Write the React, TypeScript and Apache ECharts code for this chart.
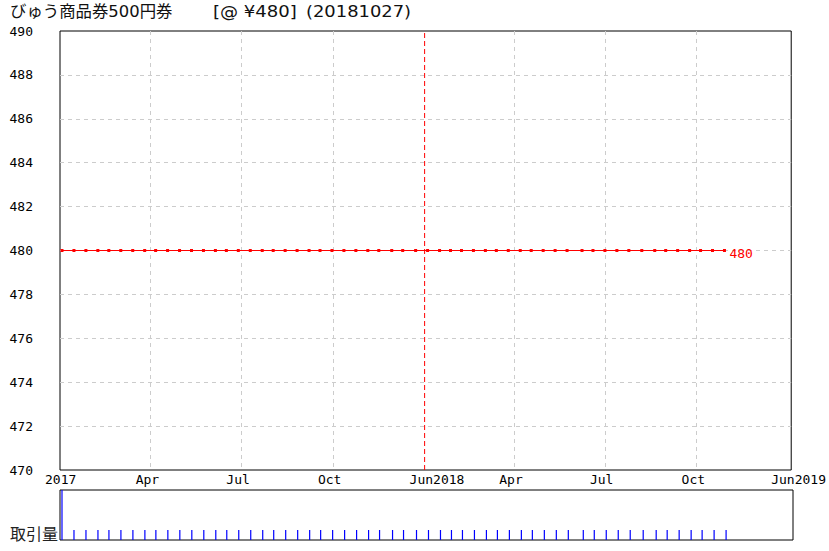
import React, { useEffect, useRef } from "react";
import * as echarts from "echarts";

const titleName = "びゅう商品券500円券";
const titlePrice = "[@ ¥480]";
const titleDate = "(20181027)";
const volumeTitle = "取引量";

const dates = [
  "2017-01-02", "2017-01-14", "2017-01-26", "2017-02-07", "2017-02-18", "2017-03-02",
  "2017-03-14", "2017-03-26", "2017-04-06", "2017-04-18", "2017-04-30", "2017-05-12",
  "2017-05-24", "2017-06-05", "2017-06-16", "2017-06-28", "2017-07-10", "2017-07-22",
  "2017-08-02", "2017-08-14", "2017-08-26", "2017-09-07", "2017-09-18", "2017-09-30",
  "2017-10-12", "2017-10-24", "2017-11-05", "2017-11-16", "2017-11-29", "2017-12-10",
  "2017-12-23", "2018-01-04", "2018-01-16", "2018-01-27", "2018-02-07", "2018-02-19",
  "2018-03-03", "2018-03-14", "2018-03-26", "2018-04-07", "2018-04-18", "2018-04-30",
  "2018-05-12", "2018-05-24", "2018-06-08", "2018-06-19", "2018-07-01", "2018-07-13",
  "2018-07-25", "2018-08-07", "2018-08-20", "2018-08-31", "2018-09-12", "2018-09-24",
  "2018-10-05", "2018-10-17", "2018-10-29",
];

const prices = [
  480, 480, 480, 480, 480, 480, 480, 480, 480, 480, 480, 480, 480, 480, 480, 480, 480, 480, 480,
  480, 480, 480, 480, 480, 480, 480, 480, 480, 480, 480, 480, 480, 480, 480, 480, 480, 480, 480,
  480, 480, 480, 480, 480, 480, 480, 480, 480, 480, 480, 480, 480, 480, 480, 480, 480, 480, 480,
];

const volumes = [
  5, 1, 1, 1, 1, 1, 1, 1, 1, 1, 1, 1, 1, 1, 1, 1, 1, 1, 1,
  1, 1, 1, 1, 1, 1, 1, 1, 1, 1, 1, 1, 1, 1, 1, 1, 1, 1, 1,
  1, 1, 1, 1, 1, 1, 1, 1, 1, 1, 1, 1, 1, 1, 1, 1, 1, 1, 1,
];

const axisStart = "2016-12-31";
const axisEnd = "2019-01-04";
const tickDates = [
  axisStart, "2017-04-01", "2017-07-01", "2017-10-01", "2018-01-01",
  "2018-04-01", "2018-07-01", "2018-10-01", axisEnd,
];
const tickLabels = ["2017", "Apr", "Jul", "Oct", "Jun2018", "Apr", "Jul", "Oct", "Jun2019"];
const markerDate = "2018-01-01";

const yMin = 470;
const yMax = 490;
const yStep = 2;

const ts = (s: string) => {
  const [y, m, d] = s.split("-").map(Number);
  return Date.UTC(y, m - 1, d);
};

const MONO = "'DejaVu Sans Mono', monospace";
const TITLE_FONT = "'DejaVu Sans', 'Noto Sans CJK JP', sans-serif";
const RED = "#ff0000";

export default function App() {
  const ref = useRef<HTMLDivElement>(null);

  useEffect(() => {
    if (!ref.current) return;
    const chart = echarts.init(ref.current, null, { renderer: "svg" });
    const tickTs = tickDates.map(ts);
    const labelMap: Record<number, string> = {};
    tickTs.forEach((t, i) => (labelMap[t] = tickLabels[i]));
    const xMin = ts(axisStart);
    const xMax = ts(axisEnd);
    const markerTs = ts(markerDate);
    const gridTs = tickTs.filter((t) => t !== xMin && t !== xMax && t !== markerTs);

    const priceData = dates.map((d, i) => [ts(d), prices[i]]);
    const volData = dates.map((d, i) => [ts(d), volumes[i]]);
    const markerData = [
      [markerTs, yMin],
      [markerTs, yMax],
    ];

    chart.setOption({
      animation: false,
      backgroundColor: "#fff",
      color: [RED, RED, "#0000ff"],
      graphic: [
        {
          type: "text",
          x: 10,
          y: 11,
          style: {
            text: titleName,
            fontSize: 16.4,
            fill: "#111",
            fontFamily: TITLE_FONT,
            verticalAlign: "middle",
          },
        },
        {
          type: "text",
          x: 213,
          y: 11,
          scaleX: 1.13,
          style: {
            text: titlePrice,
            fontSize: 16,
            fill: "#111",
            fontFamily: TITLE_FONT,
            verticalAlign: "middle",
          },
        },
        {
          type: "text",
          x: 306,
          y: 11,
          scaleX: 1.12,
          style: {
            text: titleDate,
            fontSize: 16,
            fill: "#111",
            fontFamily: TITLE_FONT,
            verticalAlign: "middle",
          },
        },
        {
          type: "text",
          x: 10,
          y: 533,
          style: {
            text: volumeTitle,
            fontSize: 16,
            fill: "#222",
            fontFamily: "'Noto Sans CJK JP', sans-serif",
            verticalAlign: "middle",
          },
        },
      ],
      grid: [
        {
          left: 60,
          right: 36,
          top: 31,
          height: 439,
          show: true,
          borderColor: "#000",
          borderWidth: 1,
          backgroundColor: "transparent",
        },
        {
          left: 60,
          right: 36,
          top: 490,
          height: 50,
          show: true,
          borderColor: "#000",
          borderWidth: 1,
          backgroundColor: "transparent",
        },
      ],
      xAxis: [
        {
          type: "value",
          gridIndex: 0,
          min: xMin,
          max: xMax,
          axisLine: { show: false },
          axisTick: { show: false, customValues: gridTs },
          splitLine: {
            show: true,
            lineStyle: { color: "#cccccc", type: [4, 4], width: 1 },
          },
          axisLabel: {
            customValues: tickTs,
            align: "center",
            margin: 3,
            color: "#000",
            fontFamily: MONO,
            fontSize: 13,
            formatter: (v: number) => {
              const s = labelMap[v] ?? "";
              return v === xMax ? `{e|${s}}` : `{l|${s}}`;
            },
            rich: {
              l: { width: 30, align: "left", fontFamily: MONO, fontSize: 13, color: "#000" },
              e: { width: 40, align: "left", fontFamily: MONO, fontSize: 13, color: "#000" },
            },
          },
        },
        {
          type: "value",
          gridIndex: 1,
          min: xMin,
          max: xMax,
          axisLine: { show: false },
          axisTick: { show: false },
          splitLine: { show: false },
          axisLabel: { show: false },
        },
      ],
      yAxis: [
        {
          type: "value",
          gridIndex: 0,
          min: yMin,
          max: yMax,
          interval: yStep,
          axisLine: { show: false },
          axisTick: { show: false },
          splitLine: {
            show: true,
            showMinLine: false,
            showMaxLine: false,
            lineStyle: { color: "#cccccc", type: [4, 4], width: 1 },
          },
          axisLabel: {
            margin: 27,
            color: "#000",
            fontFamily: MONO,
            fontSize: 13,
            padding: [5, 0, 0, 0],
          },
        },
        {
          type: "value",
          gridIndex: 1,
          min: 0,
          max: 5,
          axisLine: { show: false },
          axisTick: { show: false },
          splitLine: { show: false },
          axisLabel: { show: false },
        },
      ],
      series: [
        {
          type: "line",
          xAxisIndex: 0,
          yAxisIndex: 0,
          data: markerData,
          symbol: "none",
          itemStyle: { color: RED },
          lineStyle: { color: RED, type: [5, 3], width: 1, opacity: 1 },
          emphasis: { disabled: true },
          silent: true,
          z: 3,
        },
        {
          type: "line",
          xAxisIndex: 0,
          yAxisIndex: 0,
          data: priceData,
          symbol: "rect",
          symbolSize: 3,
          showSymbol: true,
          lineStyle: { color: RED, width: 1 },
          itemStyle: { color: RED },
          endLabel: {
            show: true,
            distance: 5,
            offset: [0, 3],
            color: RED,
            fontFamily: MONO,
            fontSize: 13,
            formatter: (p: any) => String(p.value[1]),
          },
          z: 5,
        },
        {
          type: "bar",
          xAxisIndex: 1,
          yAxisIndex: 1,
          data: volData,
          barWidth: 1.2,
          itemStyle: { color: "#0000ff" },
        },
      ],
    });
    return () => chart.dispose();
  }, []);

  return (
    <div
      ref={ref}
      style={{ position: "fixed", left: 0, top: 0, width: 829, height: 551, background: "#fff" }}
    />
  );
}
